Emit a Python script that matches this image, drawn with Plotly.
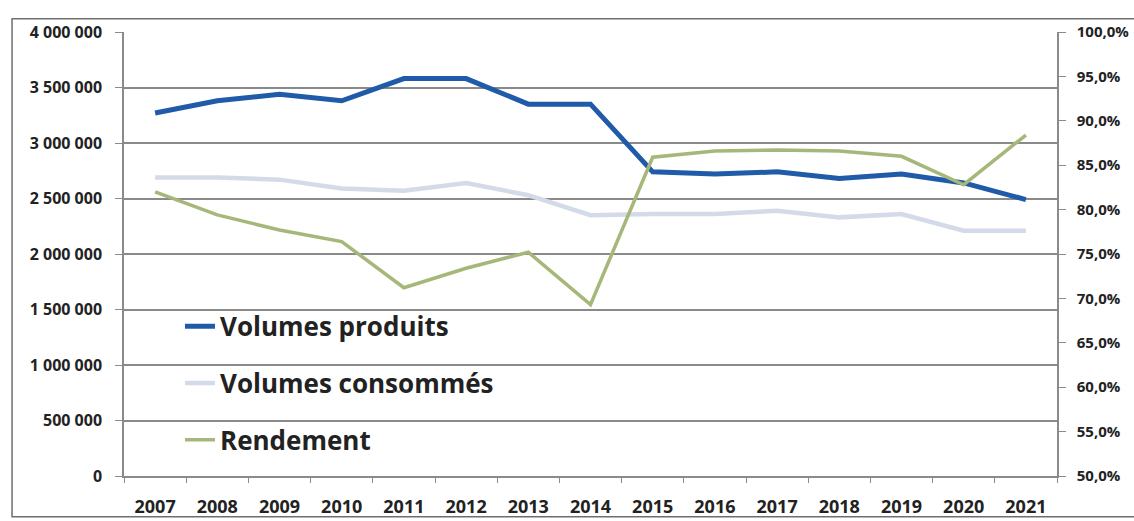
import plotly.graph_objects as go

# Annual water volumes (m3) and network efficiency
annees = ["2007", "2008", "2009", "2010", "2011", "2012", "2013", "2014",
          "2015", "2016", "2017", "2018", "2019", "2020", "2021"]
volumes_produits = [3270000, 3380000, 3440000, 3380000, 3580000, 3580000, 3350000, 3350000,
                    2740000, 2720000, 2740000, 2680000, 2720000, 2640000, 2490000]
volumes_consommes = [2690000, 2690000, 2670000, 2590000, 2570000, 2640000, 2530000, 2350000,
                     2360000, 2360000, 2390000, 2330000, 2360000, 2210000, 2210000]
rendement = [0.820, 0.794, 0.777, 0.764, 0.712, 0.734, 0.752, 0.693,
             0.859, 0.866, 0.867, 0.866, 0.860, 0.828, 0.884]

left_ticks = [0, 500000, 1000000, 1500000, 2000000, 2500000, 3000000, 3500000, 4000000]
right_ticks = [0.50, 0.55, 0.60, 0.65, 0.70, 0.75, 0.80, 0.85, 0.90, 0.95, 1.00]

BLUE = "#1f5ba8"
LIGHT = "#d3dbe8"
OLIVE = "#a6b77a"
GRID = "#8a8a8a"
TEXT = "#222222"

fig = go.Figure()
fig.add_trace(go.Scatter(x=annees, y=volumes_produits, name="Volumes produits",
                         mode="lines", line=dict(color=BLUE, width=5),
                         legendgroup="a"))
fig.add_trace(go.Scatter(x=annees, y=volumes_consommes, name="Volumes consommés",
                         mode="lines", line=dict(color=LIGHT, width=4.5),
                         legendgroup="b"))
fig.add_trace(go.Scatter(x=annees, y=rendement, name="Rendement", yaxis="y2",
                         mode="lines", line=dict(color=OLIVE, width=3.5),
                         legendgroup="c"))

fig.update_layout(
    width=1134, height=521,
    margin=dict(l=124, r=77, t=32, b=45),
    paper_bgcolor="white", plot_bgcolor="white",
    separators=", ",
    showlegend=True,
    legend=dict(x=0.06, y=0.39, xanchor="left", yanchor="top",
                bgcolor="rgba(0,0,0,0)", tracegroupgap=20,
                font=dict(family="Open Sans", size=26, color=TEXT, weight="bold")),
    xaxis=dict(type="category", range=[-0.5, 14.5], tickson="boundaries",
               showgrid=False, ticks="outside", ticklen=5, tickcolor=GRID,
               showline=True, linecolor=GRID, linewidth=1.5,
               ticklabelstandoff=14, automargin=False,
               tickfont=dict(family="Open Sans", size=18, color=TEXT, weight="bold")),
    yaxis=dict(range=[0, 4000000], tickvals=left_ticks, tickformat=",d",
               showgrid=True, gridcolor=GRID, gridwidth=1.5,
               showline=True, linecolor=GRID, linewidth=1.5,
               ticks="outside", ticklen=7, tickcolor=GRID,
               ticklabelstandoff=10, zeroline=False, automargin=False,
               tickfont=dict(family="Open Sans", size=16, color=TEXT, weight="bold")),
    yaxis2=dict(range=[0.5, 1.0], tickvals=right_ticks, tickformat=".1%",
                overlaying="y", side="right", showgrid=False,
                showline=True, linecolor=GRID, linewidth=1.5,
                ticks="outside", ticklen=7, tickcolor=GRID,
                ticklabelstandoff=8, zeroline=False, automargin=False,
                tickfont=dict(family="Open Sans", size=15, color=TEXT, weight="bold")),
    shapes=[dict(type="rect", xref="paper", yref="paper",
                 x0=-0.12, x1=1.09, y0=-0.092, y1=1.03,
                 line=dict(color="#6e6e6e", width=1.5), fillcolor="rgba(0,0,0,0)",
                 layer="below")],
)

fig.write_html("out.html")
